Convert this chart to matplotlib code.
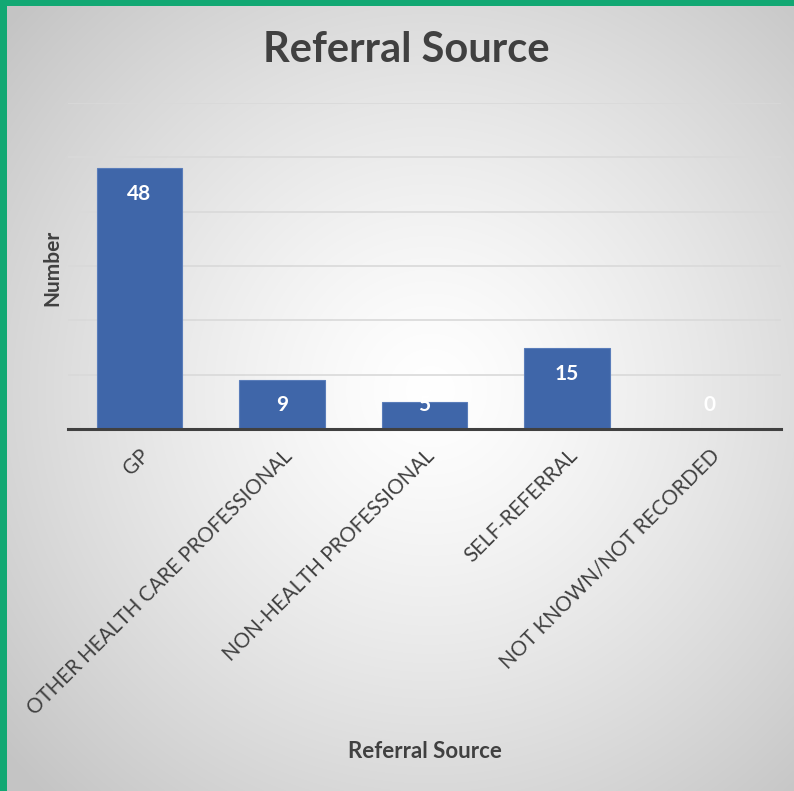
import numpy as np
import matplotlib
matplotlib.use("Agg")
import matplotlib.pyplot as plt
from matplotlib.patches import Rectangle

categories = ["GP", "OTHER HEALTH CARE PROFESSIONAL", "NON-HEALTH PROFESSIONAL",
              "SELF-REFERRAL", "NOT KNOWN/NOT RECORDED"]
values = [48, 9, 5, 15, 0]
title = "Referral Source"
xlabel = "Referral Source"
ylabel = "Number"

W, H = 794, 791
fig = plt.figure(figsize=(W / 100, H / 100), dpi=100)

# radial gradient background
bg = fig.add_axes([0, 0, 1, 1], zorder=-10)
yy, xx = np.mgrid[0:H, 0:W]
cx, cy = 430, 390
r = np.sqrt(((xx - cx) / 560.0) ** 2 + ((yy - cy) / 560.0) ** 2)
r = np.clip(r, 0, 1)
val = 1.0 - 0.23 * r ** 1.3
img = np.dstack([val, val, val])
bg.imshow(img, extent=[0, W, H, 0], aspect="auto", interpolation="bilinear")
bg.set_xlim(0, W)
bg.set_ylim(H, 0)
bg.axis("off")
green = "#12A873"
bg.add_patch(Rectangle((0, 0), W, 6, color=green, lw=0))
bg.add_patch(Rectangle((0, 0), 7, H, color=green, lw=0))

left, right, top, bottom = 68, 781, 103, 429
ax = fig.add_axes([left / W, 1 - bottom / H, (right - left) / W, (bottom - top) / H])
ax.patch.set_alpha(0)

x = np.arange(len(categories))
bars = ax.bar(x, values, width=0.6, color="#3F66A9", edgecolor="#5A7DBA", linewidth=0.8, zorder=3)
ax.set_xlim(-0.5, len(categories) - 0.5)
ax.set_ylim(0, 60)
ax.set_yticks(np.arange(0, 61, 10))
ax.yaxis.grid(True, color="#d9d9d9", linewidth=1.2, zorder=0)
ax.set_yticklabels([])
ax.tick_params(axis="y", length=0)
ax.tick_params(axis="x", length=0, pad=12)
for s in ["top", "right", "left"]:
    ax.spines[s].set_visible(False)
ax.spines["bottom"].set_color("#404040")
ax.spines["bottom"].set_linewidth(2.2)
ax.spines["bottom"].set_zorder(5)

font = "Lato"
ax.set_xticks(x)
ax.set_xticklabels(categories, rotation=45, ha="right", va="top", rotation_mode="anchor",
                   fontsize=14.8, color="#404040", family=font)

# inside-end labels, kept a minimum distance above the baseline
for xi, v in zip(x, values):
    ly = max(v - 4.8, 4.4)
    ax.text(xi, ly, str(v), ha="center", va="center", color="white", fontsize=15,
            fontweight="bold", family=font, zorder=6)

fig.text(406 / W, 1 - 50 / H, title, ha="center", va="center", fontsize=30,
         fontweight="bold", color="#404040", family=font)
fig.text(425 / W, 1 - 752 / H, xlabel, ha="center", va="center", fontsize=16,
         fontweight="bold", color="#404040", family=font)
fig.text(52 / W, 1 - 268 / H, ylabel, ha="center", va="center", fontsize=15,
         fontweight="bold", color="#404040", family=font, rotation=90)

fig.savefig("out.png", dpi=100)
